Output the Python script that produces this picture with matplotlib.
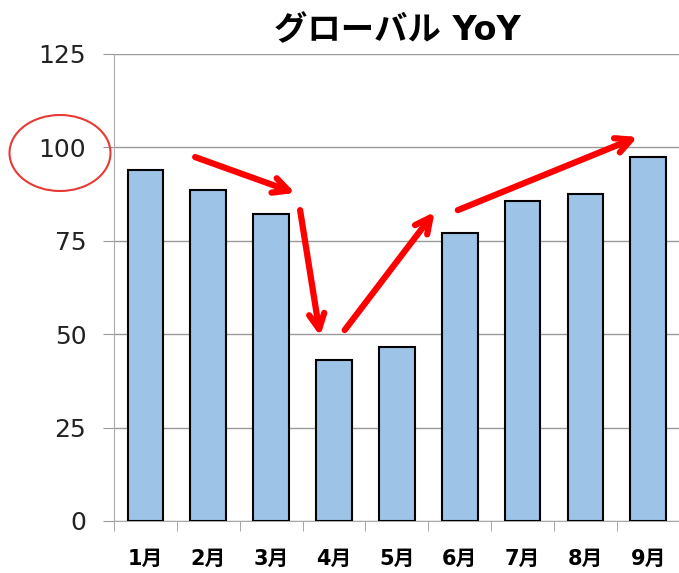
import numpy as np
import matplotlib.pyplot as plt
from matplotlib.patches import Ellipse

plt.rcParams['font.family'] = ['DejaVu Sans', 'Noto Sans CJK JP']

# data
months = ["1月", "2月", "3月", "4月", "5月", "6月", "7月", "8月", "9月"]
yoy = [93.9, 88.6, 82.2, 43.1, 46.6, 77.1, 85.7, 87.5, 97.4]
yticks = [0, 25, 50, 75, 100, 125]

# red trend arrows (data coords: start -> end)
arrows = [((0.79, 97.4), (2.38, 87.8)),
          ((2.46, 83.2), (2.78, 49.5)),
          ((3.17, 51.1), (4.60, 82.7)),
          ((4.97, 83.2), (7.83, 102.8))]

fig = plt.figure(figsize=(6.79, 5.73), dpi=100)
ax = fig.add_axes([0.168, 0.0908, 0.833, 0.815])

x = np.arange(len(months))
ax.bar(x, yoy, width=0.57, color="#9DC3E6", edgecolor="black", linewidth=1.5, zorder=3)

ax.set_xlim(-0.5, len(months) - 0.5)
ax.set_ylim(0, 125)
ax.set_yticks(yticks)
ax.set_yticklabels([str(v) for v in yticks], fontsize=18, color="#222222")
ax.yaxis.grid(True, color="#999999", linewidth=1)
ax.set_axisbelow(True)

ax.set_xticks(x)
ax.set_xticklabels(months, fontsize=15, fontweight="bold")
ax.set_xticks(np.arange(len(months) + 1) - 0.5, minor=True)
ax.tick_params(axis="x", which="major", length=0, pad=20)
ax.tick_params(axis="x", which="minor", length=7, color="#999999")
ax.tick_params(axis="y", length=8, color="#999999", pad=12)

for s in ["top", "right"]:
    ax.spines[s].set_visible(False)
for s in ["left", "bottom"]:
    ax.spines[s].set_color("#aaaaaa")

for (x0, y0), (x1, y1) in arrows:
    ax.annotate("", xy=(x1, y1), xytext=(x0, y0),
                arrowprops=dict(arrowstyle="->,head_length=1.1,head_width=0.55",
                                color="red", lw=4.5, shrinkA=0, shrinkB=0))

ax.set_title("グローバル YoY", fontsize=24, fontweight="bold", pad=10)

# circle around the 100 label
ell = Ellipse((60 / 679, 1 - 153 / 573), 101 / 679, 76 / 573, transform=fig.transFigure,
              fill=False, edgecolor="#e83a35", linewidth=1.5)
fig.add_artist(ell)

fig.savefig("out.png", dpi=100)
